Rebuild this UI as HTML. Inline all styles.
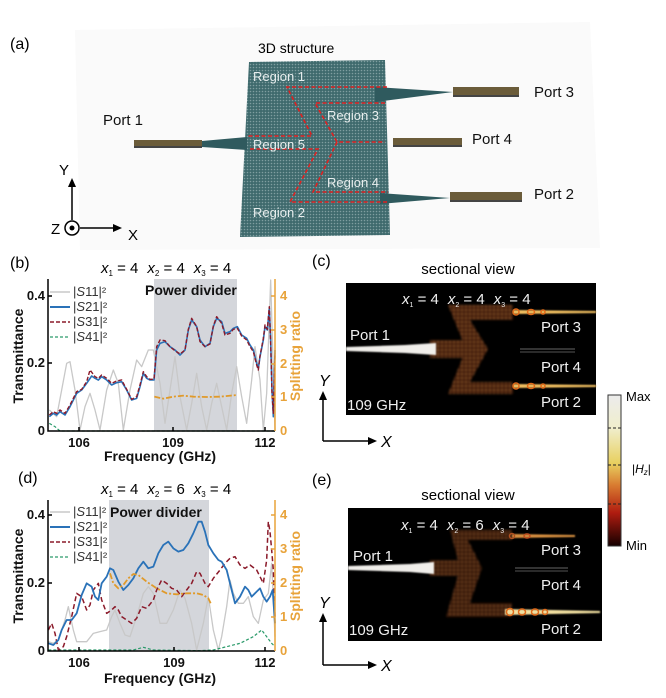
<!DOCTYPE html>
<html><head><meta charset="utf-8"><style>
html,body{margin:0;padding:0;background:#fff;}
svg{display:block;}
text{font-family:"Liberation Sans",Arial,sans-serif;}
.b{font-weight:bold;}
</style></head><body>
<svg width="666" height="698" viewBox="0 0 666 698" xmlns="http://www.w3.org/2000/svg">
<defs>
<pattern id="dots" width="3" height="3" patternUnits="userSpaceOnUse">
<rect width="3" height="3" fill="#3f6a6d"/><circle cx="1.5" cy="1.5" r="0.8" fill="#7f9ea0"/>
</pattern>
<pattern id="hex" width="4" height="4" patternUnits="userSpaceOnUse">
<rect width="4" height="4" fill="#5a2810"/><circle cx="2" cy="2" r="1.1" fill="#c0703a"/>
</pattern>
<linearGradient id="cb" x1="0" y1="0" x2="0" y2="1">
<stop offset="0" stop-color="#ececec"/><stop offset="0.22" stop-color="#f0eecc"/>
<stop offset="0.45" stop-color="#e8d060"/><stop offset="0.6" stop-color="#d87a30"/>
<stop offset="0.78" stop-color="#b01c10"/><stop offset="1" stop-color="#150000"/>
</linearGradient>
<filter id="bl"><feGaussianBlur stdDeviation="1"/></filter>
<filter id="bl2"><feGaussianBlur stdDeviation="0.7"/></filter>
</defs>

<!-- panel a -->
<polygon points="75,30 590,22 600,248 80,250" fill="#fafafa"/>
<text x="10" y="49" font-size="16">(a)</text>
<text x="258" y="53" font-size="14">3D structure</text>
<polygon points="249,62 385,60 390,235 240,237" fill="url(#dots)"/>
<polygon points="375,87 375,102 453,92" fill="#2f5a5e"/>
<polygon points="380,193 380,204 450,198" fill="#2f5a5e"/>
<polygon points="202,141 202,147 247,150 247,137" fill="#2f5a5e"/>
<rect x="453" y="87" width="66" height="10" fill="#6b5c3a"/><rect x="453" y="95" width="66" height="2" fill="#444"/>
<rect x="393" y="138" width="69" height="9" fill="#6b5c3a"/><rect x="393" y="145" width="69" height="2" fill="#444"/>
<rect x="450" y="192" width="72" height="10" fill="#6b5c3a"/><rect x="450" y="200" width="72" height="2" fill="#444"/>
<rect x="134" y="140" width="68" height="8" fill="#6b5c3a"/><rect x="134" y="146" width="68" height="2" fill="#444"/>
<g fill="none" stroke="#e02020" stroke-width="1.6" stroke-dasharray="4,2.5">
<polyline points="387,87 287,87 312,136 248,136"/>
<polyline points="385,103 315,103 337,142 385,142"/>
<polyline points="250,149 318,149 290,202 388,202"/>
<polyline points="337,142 313,192 388,192"/>
</g>
<g fill="#e8eeee" font-size="13">
<text x="253" y="81">Region 1</text><text x="327" y="120">Region 3</text>
<text x="253" y="149">Region 5</text><text x="327" y="187">Region 4</text>
<text x="253" y="217">Region 2</text>
</g>
<g font-size="15" fill="#111">
<text x="103" y="125">Port 1</text><text x="534" y="97">Port 3</text>
<text x="472" y="144">Port 4</text><text x="534" y="199">Port 2</text>
</g>
<line x1="72" y1="220" x2="72" y2="184" stroke="#000" stroke-width="1.5"/>
<polygon points="72,178 68,187 76,187" fill="#000"/>
<line x1="80" y1="228" x2="116" y2="228" stroke="#000" stroke-width="1.5"/>
<polygon points="122,228 113,224 113,232" fill="#000"/>
<circle cx="72" cy="228" r="7" fill="none" stroke="#000" stroke-width="1.5"/>
<circle cx="72" cy="228" r="2.5" fill="#000"/>
<text x="59" y="175" font-size="15">Y</text>
<text x="51" y="234" font-size="15">Z</text>
<text x="128" y="240" font-size="15">X</text>

<!-- panel b -->
<text x="10" y="268" font-size="16">(b)</text>
<text x="101" y="273" font-size="15"><tspan font-style="italic">x</tspan><tspan font-size="8" dy="3">1</tspan><tspan dy="-3"> = 4</tspan><tspan font-style="italic" dx="9">x</tspan><tspan font-size="8" dy="3">2</tspan><tspan dy="-3"> = 4</tspan><tspan font-style="italic" dx="9">x</tspan><tspan font-size="8" dy="3">3</tspan><tspan dy="-3"> = 4</tspan></text>
<rect x="154" y="279" width="83" height="152" fill="#d4d6db"/>
<g transform="translate(0,250) scale(0.33333)" fill="none" stroke-linejoin="round">
<polyline vector-effect="non-scaling-stroke" stroke="#c8c8c8" stroke-width="1.3" points="148,480 170,500 185,420 200,340 210,335 225,420 240,540 255,470 270,430 285,480 300,540 320,420 340,360 355,400 370,540 390,420 410,330 425,350 445,300 460,300 480,400 495,520 510,420 525,320 540,440 560,540 575,460 590,370 605,470 620,540 635,460 650,400 665,470 680,540 695,430 710,350 725,440 740,520 755,390 765,290 780,390 790,540 800,430 812,90 818,300 825,540"/>
<polyline vector-effect="non-scaling-stroke" stroke="#2a9a6a" stroke-width="1.2" stroke-dasharray="3,2" points="148,520 165,530 180,543 825,543"/>
<polyline vector-effect="non-scaling-stroke" stroke="#2a72b8" stroke-width="1.6" points="148,500 160,490 170,495 180,485 195,495 210,470 230,430 245,420 260,400 275,378 285,385 295,390 305,380 320,390 335,405 350,398 365,395 380,420 395,450 410,445 420,410 430,370 440,385 450,390 462,390 470,300 480,280 495,275 510,290 525,300 540,315 555,300 565,240 575,210 590,230 600,270 615,290 630,280 640,230 650,205 665,215 675,250 690,245 700,235 712,230 725,255 740,265 750,285 760,300 770,340 775,355 780,320 790,270 795,230 802,240 808,175 812,270 816,420 820,500 825,300"/>
<polyline vector-effect="non-scaling-stroke" stroke="#8b1a2a" stroke-width="1.4" stroke-dasharray="4,2" points="148,495 160,485 170,490 180,480 195,490 210,465 230,425 245,418 260,395 270,360 285,380 295,385 305,375 320,385 335,400 350,393 365,390 380,418 395,448 410,440 420,405 430,365 440,380 450,388 462,388 470,290 480,270 495,272 510,290 525,302 540,312 555,300 565,238 575,205 590,230 600,275 615,290 630,282 640,228 650,200 665,220 675,255 690,250 700,238 712,235 725,258 740,270 750,290 760,305 770,345 775,360 780,318 790,265 795,225 802,238 808,170 812,280 816,430 820,490 825,310"/>
<polyline vector-effect="non-scaling-stroke" stroke="#e09a2a" stroke-width="1.8" stroke-dasharray="6,2,2,2" points="463,440 490,446 520,440 550,437 580,440 620,441 660,440 712,435"/>
</g>
<g stroke="#000" stroke-width="1.5" fill="none">
<polyline points="48,279 48,431 275,431"/>
<line x1="79" y1="431" x2="79" y2="427"/><line x1="173" y1="431" x2="173" y2="427"/><line x1="265" y1="431" x2="265" y2="427"/>
<line x1="48" y1="363" x2="52" y2="363"/><line x1="48" y1="296" x2="52" y2="296"/>
</g>
<g stroke="#e8a33a" stroke-width="1.5"><line x1="275" y1="279" x2="275" y2="431"/>
<line x1="271" y1="296" x2="275" y2="296"/><line x1="271" y1="330" x2="275" y2="330"/><line x1="271" y1="364" x2="275" y2="364"/><line x1="271" y1="397" x2="275" y2="397"/></g>
<g font-size="13" fill="#111" text-anchor="end">
<text x="45" y="300" class="b">0.4</text><text x="45" y="367" class="b">0.2</text><text x="45" y="435" class="b">0</text></g>
<g font-size="13" fill="#111" text-anchor="middle">
<text x="79" y="447" class="b">106</text><text x="173" y="447" class="b">109</text><text x="265" y="447" class="b">112</text></g>
<g font-size="13" fill="#e8a33a"><text x="280" y="300" class="b">4</text><text x="280" y="334" class="b">3</text><text x="280" y="368" class="b">2</text><text x="280" y="401" class="b">1</text><text x="280" y="435" class="b">0</text></g>
<text class="b" font-size="14" fill="#111" transform="translate(23,356) rotate(-90)" text-anchor="middle">Transmittance</text>
<text class="b" font-size="14" fill="#e8a33a" transform="translate(300,356) rotate(-90)" text-anchor="middle">Splitting ratio</text>
<text class="b" font-size="14" fill="#111" x="160" y="461" text-anchor="middle">Frequency (GHz)</text>
<text class="b" font-size="14" fill="#111" x="145" y="295">Power divider</text>
<g font-size="13" fill="#333">
<line x1="50" y1="292" x2="70" y2="292" stroke="#c8c8c8" stroke-width="1.5"/><text x="73" y="296" font-family="Liberation Serif">|<tspan font-style="italic">S</tspan>11|²</text>
<line x1="50" y1="307" x2="70" y2="307" stroke="#2a72b8" stroke-width="2"/><text x="73" y="311" font-family="Liberation Serif">|<tspan font-style="italic">S</tspan>21|²</text>
<line x1="50" y1="322" x2="70" y2="322" stroke="#8b1a2a" stroke-width="1.5" stroke-dasharray="4,2"/><text x="73" y="326" font-family="Liberation Serif">|<tspan font-style="italic">S</tspan>31|²</text>
<line x1="50" y1="337" x2="70" y2="337" stroke="#2a9a6a" stroke-width="1.2" stroke-dasharray="3,2"/><text x="73" y="341" font-family="Liberation Serif">|<tspan font-style="italic">S</tspan>41|²</text>
</g>

<!-- panel d -->
<text x="18" y="483" font-size="16">(d)</text>
<text x="101" y="494" font-size="15"><tspan font-style="italic">x</tspan><tspan font-size="8" dy="3">1</tspan><tspan dy="-3"> = 4</tspan><tspan font-style="italic" dx="9">x</tspan><tspan font-size="8" dy="3">2</tspan><tspan dy="-3"> = 6</tspan><tspan font-style="italic" dx="9">x</tspan><tspan font-size="8" dy="3">3</tspan><tspan dy="-3"> = 4</tspan></text>
<rect x="109" y="500" width="100" height="151" fill="#d4d6db"/>
<g transform="translate(0,450) scale(0.33333)" fill="none" stroke-linejoin="round">
<polyline vector-effect="non-scaling-stroke" stroke="#c8c8c8" stroke-width="1.3" points="145,575 160,580 175,570 195,510 205,470 220,540 230,575 245,575 260,575 280,550 300,545 320,540 335,500 345,480 360,520 375,555 390,560 410,500 430,430 445,410 460,430 480,520 500,520 520,480 540,420 555,445 575,520 590,600 600,560 610,520 625,440 640,540 655,600 665,560 680,470 690,390 700,430 715,460 730,460 745,440 760,500 775,520 790,450 805,430 815,340 825,560"/>
<polyline vector-effect="non-scaling-stroke" stroke="#2a9a6a" stroke-width="1.2" stroke-dasharray="3,2" points="145,600 400,600 430,592 460,600 600,602 640,600 680,590 720,580 760,560 785,540 800,560 815,580 825,590"/>
<polyline vector-effect="non-scaling-stroke" stroke="#8b1a2a" stroke-width="1.5" stroke-dasharray="5,3" points="145,540 155,520 165,550 175,600 190,590 200,560 215,500 230,430 245,440 260,480 270,465 280,420 295,400 305,450 320,490 335,480 345,470 355,480 365,500 380,510 395,520 410,505 425,470 440,475 460,450 470,420 485,390 500,400 515,415 530,420 545,440 560,420 575,400 590,365 600,370 615,400 625,410 640,385 660,360 675,340 690,325 705,320 720,345 735,355 750,345 770,360 780,380 790,400 800,330 805,215 810,245 815,300 820,360 825,500"/>
<polyline vector-effect="non-scaling-stroke" stroke="#2a72b8" stroke-width="1.8" points="145,580 160,585 175,570 185,540 200,510 215,510 230,490 245,435 260,400 275,410 285,440 295,450 305,400 320,380 330,355 340,360 355,395 370,420 385,405 400,385 415,355 430,335 445,355 460,350 475,310 490,285 505,275 520,295 535,305 550,300 565,280 580,250 595,215 605,215 615,245 625,285 640,310 655,330 665,335 680,360 695,420 705,460 720,440 735,410 745,420 755,440 770,425 780,415 790,440 800,455 810,440 818,420 825,520"/>
<polyline vector-effect="non-scaling-stroke" stroke="#e09a2a" stroke-width="1.8" stroke-dasharray="6,2,2,2" points="330,370 340,400 355,415 370,405 385,385 400,372 415,375 440,395 470,415 500,430 530,433 560,430 590,430 610,435 625,445 632,460"/>
</g>
<g stroke="#000" stroke-width="1.5" fill="none">
<polyline points="48,500 48,651 275,651"/>
<line x1="79" y1="651" x2="79" y2="647"/><line x1="174" y1="651" x2="174" y2="647"/><line x1="265" y1="651" x2="265" y2="647"/>
<line x1="48" y1="583" x2="52" y2="583"/><line x1="48" y1="515" x2="52" y2="515"/>
</g>
<g stroke="#e8a33a" stroke-width="1.5"><line x1="275" y1="500" x2="275" y2="651"/>
<line x1="271" y1="515" x2="275" y2="515"/><line x1="271" y1="549" x2="275" y2="549"/><line x1="271" y1="583" x2="275" y2="583"/><line x1="271" y1="617" x2="275" y2="617"/></g>
<g font-size="13" fill="#111" text-anchor="end">
<text x="45" y="519" class="b">0.4</text><text x="45" y="587" class="b">0.2</text><text x="45" y="655" class="b">0</text></g>
<g font-size="13" fill="#111" text-anchor="middle">
<text x="79" y="667" class="b">106</text><text x="174" y="667" class="b">109</text><text x="265" y="667" class="b">112</text></g>
<g font-size="13" fill="#e8a33a"><text x="280" y="519" class="b">4</text><text x="280" y="553" class="b">3</text><text x="280" y="587" class="b">2</text><text x="280" y="621" class="b">1</text><text x="280" y="655" class="b">0</text></g>
<text class="b" font-size="14" fill="#111" transform="translate(23,576) rotate(-90)" text-anchor="middle">Transmittance</text>
<text class="b" font-size="14" fill="#e8a33a" transform="translate(300,576) rotate(-90)" text-anchor="middle">Splitting ratio</text>
<text class="b" font-size="14" fill="#111" x="160" y="683" text-anchor="middle">Frequency (GHz)</text>
<text class="b" font-size="14" fill="#111" x="110" y="517">Power divider</text>
<g font-size="13" fill="#333">
<line x1="50" y1="512" x2="70" y2="512" stroke="#c8c8c8" stroke-width="1.5"/><text x="73" y="516" font-family="Liberation Serif">|<tspan font-style="italic">S</tspan>11|²</text>
<line x1="50" y1="527" x2="70" y2="527" stroke="#2a72b8" stroke-width="2"/><text x="73" y="531" font-family="Liberation Serif">|<tspan font-style="italic">S</tspan>21|²</text>
<line x1="50" y1="542" x2="70" y2="542" stroke="#8b1a2a" stroke-width="1.5" stroke-dasharray="4,2"/><text x="73" y="546" font-family="Liberation Serif">|<tspan font-style="italic">S</tspan>31|²</text>
<line x1="50" y1="557" x2="70" y2="557" stroke="#2a9a6a" stroke-width="1.2" stroke-dasharray="3,2"/><text x="73" y="561" font-family="Liberation Serif">|<tspan font-style="italic">S</tspan>41|²</text>
</g>

<!-- panel c -->
<text x="312" y="266" font-size="16">(c)</text>
<text x="468" y="274" font-size="15" text-anchor="middle">sectional view</text>
<rect x="346" y="283" width="250" height="132" fill="#000"/>
<g filter="url(#bl)" fill="url(#hex)" opacity="0.7">
<polygon points="448,305 513,305 513,320 470,320 488,349 470,382 513,382 513,394 448,394 466,349"/>
<polygon points="430,340 480,340 480,358 430,358"/>
</g>
<polygon points="346,347 405,345 436,343 436,355 405,353 346,351" fill="#f0eeea" filter="url(#bl2)"/>
<g filter="url(#bl2)">
<polygon points="513,310 596,311 596,313 513,314" fill="#f2c060"/>
<polygon points="513,384 596,385 596,387 513,388" fill="#f2c060"/>
</g>
<g fill="none" stroke="#e06a1a" stroke-width="1.5"><ellipse cx="516" cy="312" rx="3" ry="3"/><ellipse cx="531" cy="312" rx="3.5" ry="2.5"/><ellipse cx="543" cy="312" rx="2" ry="2"/>
<ellipse cx="516" cy="386" rx="3" ry="3"/><ellipse cx="531" cy="386" rx="3.5" ry="2.5"/><ellipse cx="543" cy="386" rx="2" ry="2"/></g>
<line x1="520" y1="349" x2="575" y2="349" stroke="#666"/><line x1="520" y1="352" x2="575" y2="352" stroke="#555"/>
<g fill="#f0f0f0" font-size="15">
<text x="402" y="304"><tspan font-style="italic">x</tspan><tspan font-size="7" dy="3">1</tspan><tspan dy="-3"> = 4</tspan><tspan font-style="italic" dx="9">x</tspan><tspan font-size="7" dy="3">2</tspan><tspan dy="-3"> = 4</tspan><tspan font-style="italic" dx="9">x</tspan><tspan font-size="7" dy="3">3</tspan><tspan dy="-3"> = 4</tspan></text>
<text x="350" y="340">Port 1</text><text x="541" y="332">Port 3</text><text x="541" y="372">Port 4</text><text x="541" y="407">Port 2</text><text x="347" y="410">109 GHz</text>
</g>
<line x1="323" y1="441" x2="323" y2="397" stroke="#000" stroke-width="1.5"/><polygon points="323,391 319,400 327,400" fill="#000"/>
<line x1="323" y1="441" x2="370" y2="441" stroke="#000" stroke-width="1.5"/><polygon points="377,441 368,437 368,445" fill="#000"/>
<text x="319" y="386" font-size="16" font-style="italic">Y</text>
<text x="381" y="447" font-size="16" font-style="italic">X</text>

<!-- colorbar -->
<rect x="608" y="395" width="13" height="151" fill="url(#cb)" stroke="#333" stroke-width="1"/>
<g stroke="#222" stroke-dasharray="3,2"><line x1="608" y1="428" x2="621" y2="428"/><line x1="608" y1="465" x2="621" y2="465"/><line x1="608" y1="504" x2="621" y2="504"/></g>
<text x="626" y="401" font-size="13">Max</text>
<text x="626" y="550" font-size="13">Min</text>
<text x="632" y="473" font-size="12" font-family="Liberation Serif">|<tspan font-style="italic">H</tspan><tspan font-size="8" font-style="italic" dy="2">z</tspan><tspan dy="-2">|</tspan></text>

<!-- panel e -->
<text x="312" y="485" font-size="16">(e)</text>
<text x="468" y="500" font-size="15" text-anchor="middle">sectional view</text>
<rect x="348" y="508" width="254" height="133" fill="#000"/>
<g filter="url(#bl)" fill="url(#hex)" opacity="0.6">
<polygon points="450,530 512,530 512,540 468,540 482,568 470,603 512,603 512,617 446,617 460,568"/>
<polygon points="430,560 478,560 478,576 430,576"/>
</g>
<polygon points="348,566 410,564 434,562 434,574 410,572 348,570" fill="#f0eeea" filter="url(#bl2)"/>
<g filter="url(#bl2)">
<polygon points="512,534 575,535 575,537 512,538" fill="#d89040"/>
<polygon points="505,609 600,611 600,613 505,615" fill="#f2e0a0"/>
</g>
<g fill="none" stroke-width="1.5"><ellipse cx="512" cy="536" rx="2.5" ry="2.5" stroke="#b05020"/><ellipse cx="527" cy="536" rx="3" ry="2" stroke="#c05020"/>
<ellipse cx="510" cy="612" rx="3.5" ry="3.5" stroke="#e06a1a"/><ellipse cx="522" cy="612" rx="3.5" ry="3" stroke="#e06a1a"/><ellipse cx="535" cy="612" rx="3.5" ry="3" stroke="#e06a1a"/><ellipse cx="545" cy="612" rx="2.5" ry="2.5" stroke="#e06a1a"/></g>
<line x1="515" y1="568" x2="568" y2="568" stroke="#666"/><line x1="515" y1="571" x2="568" y2="571" stroke="#555"/>
<g fill="#f0f0f0" font-size="15">
<text x="401" y="530"><tspan font-style="italic">x</tspan><tspan font-size="7" dy="3">1</tspan><tspan dy="-3"> = 4</tspan><tspan font-style="italic" dx="9">x</tspan><tspan font-size="7" dy="3">2</tspan><tspan dy="-3"> = 6</tspan><tspan font-style="italic" dx="9">x</tspan><tspan font-size="7" dy="3">3</tspan><tspan dy="-3"> = 4</tspan></text>
<text x="353" y="561">Port 1</text><text x="541" y="555">Port 3</text><text x="541" y="590">Port 4</text><text x="541" y="634">Port 2</text><text x="349" y="635">109 GHz</text>
</g>
<line x1="323" y1="665" x2="323" y2="619" stroke="#000" stroke-width="1.5"/><polygon points="323,613 319,622 327,622" fill="#000"/>
<line x1="323" y1="665" x2="370" y2="665" stroke="#000" stroke-width="1.5"/><polygon points="377,665 368,661 368,669" fill="#000"/>
<text x="319" y="608" font-size="16" font-style="italic">Y</text>
<text x="381" y="671" font-size="16" font-style="italic">X</text>
</svg>
</body></html>
